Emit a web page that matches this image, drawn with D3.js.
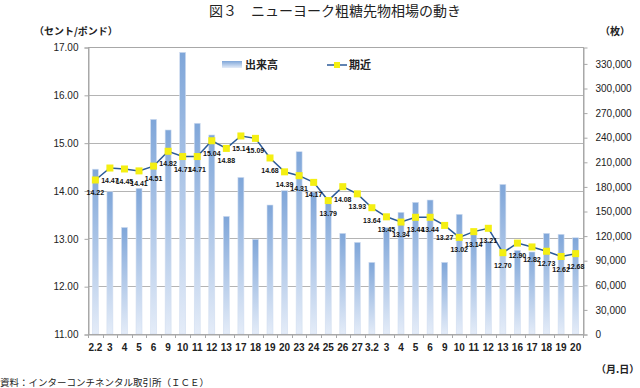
<!DOCTYPE html>
<html>
<head>
<meta charset="utf-8">
<title>図３ ニューヨーク粗糖先物相場の動き</title>
<style>
    body{ margin:0; background:#fff; }
    svg{ font-family:"Liberation Sans", Arial, "Noto Sans CJK JP", sans-serif; }
    .jp{ font-family:"Noto Sans CJK JP", sans-serif; }
    .tick-lab{ font-size:10px; fill:#222; }
    .xlab{ font-size:10px; font-weight:bold; fill:#222; }
    .vlab{ font-size:7px; font-weight:bold; fill:#111; }
    .grid{ stroke:#b4b4b4; stroke-width:1; }
</style>
</head>
<body>
<script src="https://cdn.jsdelivr.net/npm/d3@7"></script>
<script>
// 日付 (月.日)
var dates = ["2.2","3","4","5","6","9","10","11","12","13","17","18","19","20","23","24","25","26","27",
             "3.2","3","4","5","6","9","10","11","12","13","16","17","18","19","20"];
// 期近 (セント/ポンド)
var prices = [14.22,14.47,14.45,14.41,14.51,14.82,14.71,14.71,15.04,14.88,15.14,15.09,14.68,14.39,14.31,14.17,13.79,14.08,13.93,
              13.64,13.45,13.34,13.44,13.44,13.27,13.02,13.14,13.21,12.70,12.90,12.82,12.73,12.62,12.68];
// 出来高 (枚)
var volumes = [201000,173500,130000,177700,261800,248800,343500,257000,242700,143500,191000,115500,157300,174800,222300,173000,160000,122800,111800,
               87400,129600,148400,160600,163400,87400,146000,123000,112600,182500,102000,100000,122800,121600,117400];
var leftTicks = [11,12,13,14,15,16,17];
var rightTicks = [0,30000,60000,90000,120000,150000,180000,210000,240000,270000,300000,330000];

var width = 640, height = 388;
var pLeft = 88, pRight = 583, pTop = 47, pBottom = 334;

var svgContainer = d3.select("body").append("svg")
                     .attr("width", width)
                     .attr("height", height);

var idx = d3.range(dates.length);
var x = d3.scaleBand().domain(idx).range([pLeft, pRight]).paddingInner(0.59).paddingOuter(0.3);
var yL = d3.scaleLinear().domain([11, 17]).range([pBottom, pTop]);
var yR = d3.scaleLinear().domain([0, 350000]).range([pBottom, pTop]);

var defs = svgContainer.append("defs");
var grad = defs.append("linearGradient").attr("id", "barGrad")
               .attr("x1", 0).attr("y1", 0).attr("x2", 0).attr("y2", 1);
grad.append("stop").attr("offset", "0%").attr("stop-color", "#7fa6d9");
grad.append("stop").attr("offset", "100%").attr("stop-color", "#e4ecf8");

// title and units
svgContainer.append("text").attr("class", "jp")
    .attr("x", 335).attr("y", 16).attr("text-anchor", "middle")
    .style("font-size", "14px").style("fill", "#222")
    .text("図３　ニューヨーク粗糖先物相場の動き");
svgContainer.append("text").attr("class", "jp")
    .attr("x", 34).attr("y", 35)
    .style("font-size", "10px").style("font-weight", "bold").style("fill", "#222")
    .text("（セント/ポンド）");
svgContainer.append("text").attr("class", "jp")
    .attr("x", 600).attr("y", 35)
    .style("font-size", "10px").style("font-weight", "bold").style("fill", "#222")
    .text("（枚）");
svgContainer.append("text").attr("class", "jp")
    .attr("x", 596).attr("y", 373)
    .style("font-size", "10px").style("font-weight", "bold").style("fill", "#222")
    .text("（月.日）");
svgContainer.append("text").attr("class", "jp")
    .attr("x", 0).attr("y", 386)
    .style("font-size", "9.5px").style("fill", "#222")
    .text("資料：インターコンチネンタル取引所（ＩＣＥ）");

// grid lines
svgContainer.selectAll(".grid").data(leftTicks.slice(1, -1)).enter()
    .append("line").attr("class", "grid")
    .attr("x1", pLeft).attr("x2", pRight)
    .attr("y1", function(d){ return Math.round(yL(d)) + 0.5; })
    .attr("y2", function(d){ return Math.round(yL(d)) + 0.5; });

// bars
svgContainer.selectAll(".bar").data(volumes).enter()
    .append("rect").attr("class", "bar")
    .attr("x", function(d, i){ return x(i); })
    .attr("width", x.bandwidth())
    .attr("y", function(d){ return yR(d); })
    .attr("height", function(d){ return pBottom - yR(d); })
    .attr("fill", "url(#barGrad)")
    .attr("stroke", "#d2def0").attr("stroke-width", 0.6);

// plot frame
svgContainer.append("rect")
    .attr("x", pLeft + 0.5).attr("y", pTop + 0.5)
    .attr("width", pRight - pLeft).attr("height", pBottom - pTop)
    .attr("fill", "none").attr("stroke", "#a8a8a8");

// left axis
var axL = d3.axisLeft(yL).tickValues(leftTicks).tickFormat(d3.format(".2f")).tickSize(4).tickPadding(6);
var gL = svgContainer.append("g").attr("transform", "translate(" + (pLeft + 0.5) + ",0.5)").call(axL);
gL.select(".domain").attr("stroke", "#a8a8a8");
gL.selectAll(".tick line").attr("stroke", "#a8a8a8");
gL.selectAll("text").attr("class", "tick-lab").attr("font-family", null).attr("font-size", null);
gL.attr("font-family", null).attr("font-size", null);

// right axis
var axR = d3.axisRight(yR).tickValues(rightTicks).tickFormat(d3.format(",")).tickSize(4).tickPadding(8);
var gR = svgContainer.append("g").attr("transform", "translate(" + (pRight + 0.5) + ",0.5)").call(axR);
gR.select(".domain").attr("stroke", "#a8a8a8");
gR.selectAll(".tick line").attr("stroke", "#a8a8a8");
gR.selectAll("text").attr("class", "tick-lab");
gR.attr("font-family", null).attr("font-size", null);

// bottom axis
var axB = d3.axisBottom(x).tickFormat(function(i){ return dates[i]; }).tickSize(0).tickPadding(9);
var gB = svgContainer.append("g").attr("transform", "translate(0," + (pBottom + 0.5) + ")").call(axB);
gB.select(".domain").attr("stroke", "#a8a8a8");
gB.selectAll("text").attr("class", "xlab");
gB.attr("font-family", null).attr("font-size", null);
// small ticks between categories
var step = x.step();
svgContainer.selectAll(".xtick").data(d3.range(dates.length + 1)).enter()
    .append("line").attr("class", "xtick")
    .attr("x1", function(i){ return Math.round(x(0) + x.bandwidth() / 2 - step / 2 + i * step) + 0.5; })
    .attr("x2", function(i){ return Math.round(x(0) + x.bandwidth() / 2 - step / 2 + i * step) + 0.5; })
    .attr("y1", pBottom).attr("y2", pBottom + 4)
    .attr("stroke", "#a8a8a8");

// price line
var cx = function(i){ return x(i) + x.bandwidth() / 2; };
var line = d3.line().x(function(d, i){ return cx(i); }).y(function(d){ return yL(d); });
svgContainer.append("path").datum(prices)
    .attr("d", line).attr("fill", "none")
    .attr("stroke", "#2b5a98").attr("stroke-width", 1.5);

svgContainer.selectAll(".mark").data(prices).enter()
    .append("rect").attr("class", "mark")
    .attr("x", function(d, i){ return cx(i) - 3.5; })
    .attr("y", function(d){ return yL(d) - 3.5; })
    .attr("width", 7).attr("height", 7)
    .attr("fill", "#f4ef12");

svgContainer.selectAll(".vlab").data(prices).enter()
    .append("text").attr("class", "vlab")
    .attr("x", function(d, i){ return cx(i); })
    .attr("y", function(d){ return yL(d) + 15; })
    .attr("text-anchor", "middle")
    .text(function(d){ return d.toFixed(2); });

// legend
var lg = svgContainer.append("g");
lg.append("rect").attr("x", 222).attr("y", 61).attr("width", 20).attr("height", 7)
  .attr("fill", "url(#barGrad)");
lg.append("text").attr("class", "jp").attr("x", 245).attr("y", 69)
  .style("font-size", "11px").style("font-weight", "bold").style("fill", "#222").text("出来高");
lg.append("line").attr("x1", 327).attr("x2", 347).attr("y1", 65).attr("y2", 65)
  .attr("stroke", "#2b5a98").attr("stroke-width", 1.5);
lg.append("rect").attr("x", 334).attr("y", 62).attr("width", 6).attr("height", 6).attr("fill", "#f4ef12");
lg.append("text").attr("class", "jp").attr("x", 349).attr("y", 69)
  .style("font-size", "11px").style("font-weight", "bold").style("fill", "#222").text("期近");
</script>
</body>
</html>
